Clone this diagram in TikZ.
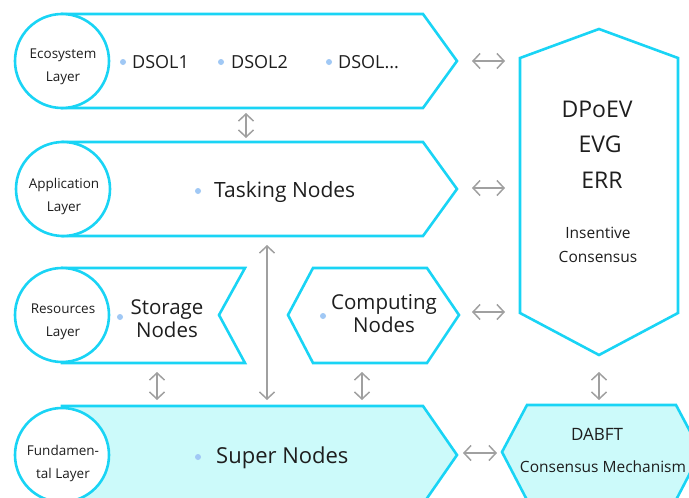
\documentclass[tikz,border=0pt]{standalone}
\usepackage{fontspec}
\setmainfont{Open Sans}
\usetikzlibrary{arrows.meta}
\definecolor{cy}{RGB}{25,212,245}
\definecolor{cyfill}{RGB}{204,250,250}
\definecolor{ar}{RGB}{160,160,160}
\definecolor{dot}{RGB}{160,200,245}
\definecolor{ink}{RGB}{30,30,30}
\begin{document}
\begin{tikzpicture}[x=1pt,y=-1pt,
  shp/.style={draw=cy, line width=2.6pt, fill=white, line join=miter},
  lyr/.style={circle, draw=cy, line width=2.6pt, fill=white, minimum size=94pt, inner sep=0pt},
  lyrt/.style={inner sep=0pt, align=center, text=ink, font=\fontsize{13.5}{23}\selectfont},
  dbl/.style={draw=ar, line width=1.5pt, {Straight Barb[length=7pt,width=15pt]}-{Straight Barb[length=7pt,width=15pt]}},
  bul/.style={circle, fill=dot, inner sep=0pt, minimum size=6pt},
  txt/.style={text=ink, anchor=west, inner sep=0pt, font=\fontsize{18}{21}\selectfont},
  big/.style={text=ink, inner sep=0pt, align=center, font=\fontsize{20.5}{23}\selectfont}]
\useasboundingbox (0,0) rectangle (689,498);
\clip (0,0) rectangle (689,498);

% Ecosystem layer
\draw[shp] (62,14) -- (423,14) -- (457,61) -- (423,108) -- (62,108) -- cycle;
\node[lyr] (eco) at (62,61) {};
\node[lyrt] (ecot) at (63,67) {Ecosystem\\Layer};
\node[bul] (b1) at (123,62) {};
\node[txt] (d1) at (132,62) {DSOL1};
\node[bul] (b2) at (221,62) {};
\node[txt] (d2) at (231,62) {DSOL2};
\node[bul] (b3) at (329,62) {};
\node[txt] (d3) at (338,62) {DSOL...};

% Application layer
\draw[shp] (62,142) -- (423,142) -- (457,189) -- (423,236) -- (62,236) -- cycle;
\node[lyr] (app) at (63,189) {};
\node[lyrt] (appt) at (64,196) {Application\\Layer};
\node[bul] (b4) at (198,191) {};
\node[txt, font=\fontsize{21}{24}\selectfont] (task) at (214,192) {Tasking Nodes};

% Resources layer
\draw[shp] (62,268) -- (245,268) -- (219,315) -- (245,363) -- (62,363) -- cycle;
\node[lyr] (res) at (62,315) {};
\node[lyrt] (rest) at (63,322) {Resources\\Layer};
\node[bul] (b5) at (120,317) {};
\node[big] (stor) at (167,319) {Storage\\Nodes};

% Computing nodes
\draw[shp] (288,315) -- (313,268) -- (427,268) -- (459,315) -- (427,363) -- (313,363) -- cycle;
\node[bul] (b6) at (323,316) {};
\node[big] (comp) at (384,314) {Computing\\Nodes};

% Fundamental layer
\draw[shp, fill=cyfill] (62,406) -- (423,406) -- (457,455) -- (423,504) -- (62,504) -- cycle;
\node[lyr] (fun) at (62,455) {};
\node[lyrt] (funt) at (63,463) {Fundamen-\\tal Layer};
\node[bul] (b7) at (198,457) {};
\node[txt, font=\fontsize{22}{25}\selectfont] (sup) at (216,458) {Super Nodes};

% Incentive consensus
\draw[shp] (599,29) -- (678,58) -- (678,313) -- (599,355) -- (520,313) -- (520,58) -- cycle;
\node[big, font=\fontsize{23}{26}\selectfont] (dp) at (597,109) {DPoEV};
\node[big, font=\fontsize{23}{26}\selectfont] (evg) at (600,144) {EVG};
\node[big, font=\fontsize{23}{26}\selectfont] (err) at (602,180) {ERR};
\node[big, font=\fontsize{15.5}{24}\selectfont] (ins) at (598,245) {Insentive\\Consensus};

% DABFT
\draw[shp, fill=cyfill] (502,452) -- (527,405) -- (676,405) -- (701,452) -- (676,500) -- (527,500) -- cycle;
\node[big, font=\fontsize{17}{20}\selectfont] (dab) at (597,434) {DABFT};
\node[big, font=\fontsize{15.5}{18}\selectfont] (cm) at (603,467) {Consensus Mechanism};

% connector end points
\coordinate (v1a) at (246,113); \coordinate (v1b) at (246,138);
\coordinate (v2a) at (267,245); \coordinate (v2b) at (267,400);
\coordinate (v3a) at (157,372); \coordinate (v3b) at (157,400);
\coordinate (v4a) at (362,372); \coordinate (v4b) at (362,400);
\coordinate (v5a) at (599,372); \coordinate (v5b) at (599,400);
\coordinate (h1a) at (472,61);  \coordinate (h1b) at (505,61);
\coordinate (h2a) at (472,188); \coordinate (h2b) at (505,188);
\coordinate (h3a) at (472,312); \coordinate (h3b) at (505,312);
\coordinate (h4a) at (463,453); \coordinate (h4b) at (497,453);

\draw[dbl] (v1a) -- (v1b);
\draw[dbl] (v2a) -- (v2b);
\draw[dbl] (v3a) -- (v3b);
\draw[dbl] (v4a) -- (v4b);
\draw[dbl] (v5a) -- (v5b);
\draw[dbl] (h1a) -- (h1b);
\draw[dbl] (h2a) -- (h2b);
\draw[dbl] (h3a) -- (h3b);
\draw[dbl] (h4a) -- (h4b);
\end{tikzpicture}
\end{document}
